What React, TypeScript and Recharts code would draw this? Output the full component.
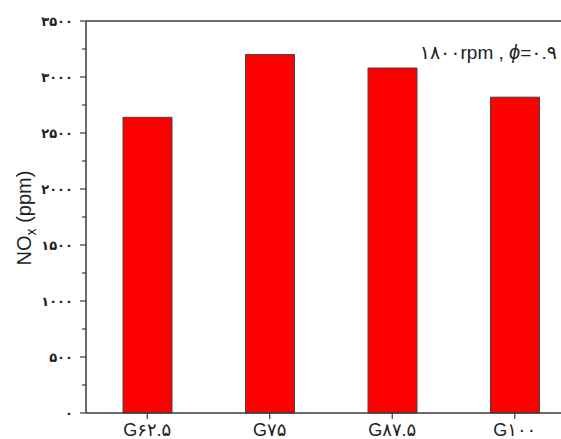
import React from "react";
import { BarChart, Bar, XAxis, YAxis, ReferenceLine } from "recharts";

const categories = ["G۶۲.۵", "G۷۵", "G۸۷.۵", "G۱۰۰"];
const noxValues = [2640, 3200, 3080, 2820];
const yTicks = [0, 250, 500, 750, 1000, 1250, 1500, 1750, 2000, 2250, 2500, 2750, 3000, 3250, 3500];
const yTickLabels: Record<number, string> = {
  0: "۰",
  500: "۵۰۰",
  1000: "۱۰۰۰",
  1500: "۱۵۰۰",
  2000: "۲۰۰۰",
  2500: "۲۵۰۰",
  3000: "۳۰۰۰",
  3500: "۳۵۰۰",
};
const annotation = "۱۸۰۰rpm , ";
const annotationPhi = "ϕ";
const annotationTail = "=۰.۹";

const data = categories.map((c, i) => ({ name: c, nox: noxValues[i] }));

const FONT = "'Liberation Sans', 'DejaVu Sans', Arial, sans-serif";
const AXIS = "#3a3a3a";

const YTick = (props: any) => {
  const { x, y, payload } = props;
  const v = payload.value as number;
  const major = v % 500 === 0;
  return (
    <g>
      <line x1={x - (major ? 6 : 4)} x2={x} y1={y} y2={y} stroke={AXIS} strokeWidth={1.2} />
      {major && (
        <text x={x - 13} y={y} dy={5} textAnchor="end" fontSize={13} fontWeight="bold" fill="#222" fontFamily={FONT}>
          {yTickLabels[v]}
        </text>
      )}
    </g>
  );
};

const XTick = (props: any) => {
  const { x, y, payload } = props;
  return (
    <g>
      <line x1={x} x2={x} y1={y} y2={y + 6} stroke={AXIS} strokeWidth={1.2} />
      <text x={x} y={y + 23} textAnchor="middle" fontSize={18} fill="#222" fontFamily={FONT}>
        {payload.value}
      </text>
    </g>
  );
};

export default function App() {
  return (
    <div style={{ position: "fixed", left: 0, top: 0, width: 561, height: 439, overflow: "hidden", background: "#fff" }}>
      <BarChart
        width={620}
        height={439}
        data={data}
        margin={{ top: 21, right: 44, bottom: 0, left: 0 }}
        barCategoryGap={0}
      >
        <XAxis
          dataKey="name"
          tick={<XTick />}
          tickLine={false}
          tickSize={0}
          tickMargin={0}
          height={26}
          axisLine={{ stroke: AXIS, strokeWidth: 1.5 }}
          interval={0}
        />
        <YAxis
          type="number"
          domain={[0, 3500]}
          ticks={yTicks}
          interval={0}
          width={86}
          tick={<YTick />}
          tickLine={false}
          tickSize={0}
          tickMargin={0}
          axisLine={{ stroke: AXIS, strokeWidth: 1.5 }}
          label={{
            content: () => (
              <text
                x={0}
                y={0}
                transform="translate(31 218) rotate(-90)"
                textAnchor="middle"
                fontSize={20}
                fill="#222"
                fontFamily={FONT}
              >
                NO
                <tspan fontSize={14} dy={5}>x</tspan>
                <tspan dy={-5}> (ppm)</tspan>
              </text>
            ),
          }}
        />
        <ReferenceLine
          y={3500}
          stroke={AXIS}
          strokeWidth={1.5}
          label={{
            content: () => (
              <text x={557} y={59} textAnchor="end" fontSize={19} fill="#222" fontFamily={FONT}>
                {annotation}
                <tspan fontStyle="italic" fontSize={20}>{annotationPhi}</tspan>
                {annotationTail}
              </text>
            ),
          }}
        />
        <Bar dataKey="nox" fill="#ff0000" stroke="#444" strokeWidth={1} barSize={49} isAnimationActive={false} />
      </BarChart>
    </div>
  );
}
